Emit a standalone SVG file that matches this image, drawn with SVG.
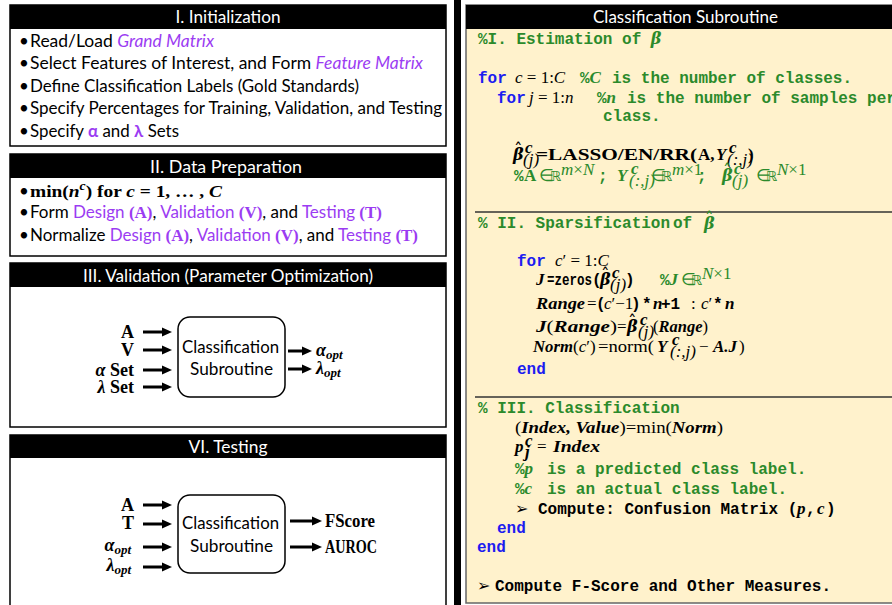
<svg xmlns="http://www.w3.org/2000/svg" width="892" height="605" viewBox="0 0 892 605">
  <style>
    .hdr { font-family: Lato, "Liberation Sans", sans-serif; font-size: 17px; fill: #fff; text-anchor: middle; }
    .txt { font-family: Lato, "Liberation Sans", sans-serif; font-size: 17px; fill: #000; }
    .pur { fill: #9b3cf2; }
    .ser { font-family: "Liberation Serif", serif; }
    .dv { font-family: "DejaVu Serif", serif; }
    .ds { font-family: "DejaVu Sans", sans-serif; font-weight: normal; font-style: normal; }
    .hat { font-family: "DejaVu Sans", sans-serif; font-size: 17px; }
    .bd { font-weight: bold; }
    .it { font-style: italic; }
    .code { font-family: "Liberation Mono", monospace; font-weight: bold; font-size: 16px; }
    .g { fill: #2b8a2b; }
    .b { fill: #1c1cf0; }
    .k { fill: #000; }
    .box { fill: #fff; stroke: #000; stroke-width: 1.5; }
    .head { fill: #000; }
    .sub { fill: #fff; stroke: #000; stroke-width: 1.5; }
    .arr { stroke: #000; stroke-width: 3; fill: none; marker-end: url(#ah); }
    .sep { stroke: #333; stroke-width: 1.5; }
    .mt { font-family: "Liberation Serif", serif; font-size: 17px; }
    .io { font-family: "Liberation Serif", serif; font-size: 18px; font-weight: bold; }
  </style>
  <defs>
    <marker id="ah" markerUnits="userSpaceOnUse" markerWidth="10" markerHeight="10" refX="1" refY="5" orient="auto" viewBox="0 0 10 10">
      <path d="M0,0.5 L10,5 L0,9.5 z" fill="#000"/>
    </marker>
  </defs>

  <rect width="892" height="605" fill="#fff"/>

  <!-- divider bar between the two columns -->
  <rect x="454" y="0" width="7" height="605" fill="#000"/>

  <!-- I. Initialization -->
  <g id="panel-init">
    <rect class="box" x="10" y="5" width="436" height="141"/>
    <rect class="head" x="10" y="5" width="436" height="24"/>
    <text class="hdr" x="228" y="23" textLength="105" lengthAdjust="spacingAndGlyphs">I. Initialization</text>
    <text class="txt" x="19" y="47">•</text>
    <text class="txt" x="30" y="47" textLength="184" lengthAdjust="spacingAndGlyphs">Read/Load <tspan class="pur it">Grand Matrix</tspan></text>
    <text class="txt" x="19" y="69">•</text>
    <text class="txt" x="30" y="69" textLength="393" lengthAdjust="spacingAndGlyphs">Select Features of Interest, and  Form <tspan class="pur it">Feature Matrix</tspan></text>
    <text class="txt" x="19" y="92">•</text>
    <text class="txt" x="30" y="92" textLength="329" lengthAdjust="spacingAndGlyphs">Define Classification Labels (Gold Standards)</text>
    <text class="txt" x="19" y="114">•</text>
    <text class="txt" x="30" y="114" textLength="412" lengthAdjust="spacingAndGlyphs">Specify Percentages for Training, Validation, and Testing</text>
    <text class="txt" x="19" y="137">•</text>
    <text class="txt" x="30" y="137" textLength="149" lengthAdjust="spacingAndGlyphs">Specify <tspan class="pur bd">α</tspan> and <tspan class="pur bd">λ</tspan> Sets</text>
  </g>

  <!-- II. Data Preparation -->
  <g id="panel-prep">
    <rect class="box" x="10" y="154" width="436" height="102"/>
    <rect class="head" x="10" y="154" width="436" height="24"/>
    <text class="hdr" x="226" y="173" textLength="152" lengthAdjust="spacingAndGlyphs">II. Data Preparation</text>
    <text class="txt" x="19" y="197">•</text>
    <text class="mt bd" x="30" y="197" font-size="18" textLength="192" lengthAdjust="spacingAndGlyphs">min(<tspan class="it">n</tspan><tspan class="it" font-size="12" dy="-7">c</tspan><tspan dy="7">) for </tspan><tspan class="it">c</tspan> = 1, … , <tspan class="it">C</tspan></text>
    <text class="txt" x="19" y="218">•</text>
    <text class="txt" x="30" y="218" textLength="352" lengthAdjust="spacingAndGlyphs">Form <tspan class="pur">Design </tspan><tspan class="pur ser bd">(A)</tspan>, <tspan class="pur">Validation </tspan><tspan class="pur ser bd">(V)</tspan>, and <tspan class="pur">Testing </tspan><tspan class="pur ser bd">(T)</tspan></text>
    <text class="txt" x="19" y="241">•</text>
    <text class="txt" x="30" y="241" textLength="388" lengthAdjust="spacingAndGlyphs">Normalize <tspan class="pur">Design </tspan><tspan class="pur ser bd">(A)</tspan>, <tspan class="pur">Validation </tspan><tspan class="pur ser bd">(V)</tspan>, and <tspan class="pur">Testing </tspan><tspan class="pur ser bd">(T)</tspan></text>
  </g>

  <!-- III. Validation -->
  <g id="panel-validation">
    <rect class="box" x="10" y="263" width="436" height="164"/>
    <rect class="head" x="10" y="263" width="436" height="24"/>
    <text class="hdr" x="228" y="282" textLength="290" lengthAdjust="spacingAndGlyphs">III. Validation (Parameter Optimization)</text>
    <text class="io" x="134" y="338" text-anchor="end">A</text>
    <text class="io" x="134" y="356" text-anchor="end">V</text>
    <text class="io" x="134" y="376" text-anchor="end"><tspan class="it">α</tspan> Set</text>
    <text class="io" x="134" y="393" text-anchor="end"><tspan class="it">λ</tspan> Set</text>
    <text class="io it" x="316" y="356" font-size="19">α<tspan font-size="13" dy="3">opt</tspan></text>
    <text class="io it" x="316" y="374" font-size="19">λ<tspan font-size="13" dy="3">opt</tspan></text>
  </g>
  <g id="node-validation-subroutine">
    <rect class="sub" x="178" y="317" width="107" height="80" rx="12"/>
    <text class="txt" x="182" y="353" textLength="97" lengthAdjust="spacingAndGlyphs" font-size="18">Classification</text>
    <text class="txt" x="190" y="375" textLength="83" lengthAdjust="spacingAndGlyphs" font-size="18">Subroutine</text>
  </g>

  <!-- VI. Testing -->
  <g id="panel-testing">
    <rect class="box" x="10" y="435" width="436" height="180"/>
    <rect class="head" x="10" y="435" width="436" height="23"/>
    <text class="hdr" x="228" y="453" textLength="79" lengthAdjust="spacingAndGlyphs">VI. Testing</text>
    <text class="io" x="134" y="511" text-anchor="end">A</text>
    <text class="io" x="134" y="529" text-anchor="end">T</text>
    <text class="io it" x="131" y="551" text-anchor="end" font-size="19">α<tspan font-size="13" dy="3">opt</tspan></text>
    <text class="io it" x="131" y="571" text-anchor="end" font-size="19">λ<tspan font-size="13" dy="3">opt</tspan></text>
    <text class="io" x="325" y="527" textLength="50" lengthAdjust="spacingAndGlyphs">FScore</text>
    <text class="io" x="325" y="553" textLength="52" lengthAdjust="spacingAndGlyphs">AUROC</text>
  </g>
  <g id="node-testing-subroutine">
    <rect class="sub" x="178" y="495" width="107" height="78" rx="12"/>
    <text class="txt" x="182" y="529" textLength="97" lengthAdjust="spacingAndGlyphs" font-size="18">Classification</text>
    <text class="txt" x="190" y="552" textLength="83" lengthAdjust="spacingAndGlyphs" font-size="18">Subroutine</text>
  </g>

  <!-- arrows into and out of the subroutine boxes -->
  <g id="connectors">
    <line class="arr" x1="143" y1="332" x2="163" y2="332"/>
    <line class="arr" x1="143" y1="350" x2="163" y2="350"/>
    <line class="arr" x1="143" y1="370" x2="163" y2="370"/>
    <line class="arr" x1="143" y1="387" x2="163" y2="387"/>
    <line class="arr" x1="288" y1="351" x2="303" y2="351"/>
    <line class="arr" x1="288" y1="369" x2="303" y2="369"/>
    <line class="arr" x1="143" y1="505" x2="163" y2="505"/>
    <line class="arr" x1="143" y1="524" x2="163" y2="524"/>
    <line class="arr" x1="143" y1="547" x2="163" y2="547"/>
    <line class="arr" x1="143" y1="567" x2="163" y2="567"/>
    <line class="arr" x1="290" y1="521" x2="313" y2="521"/>
    <line class="arr" x1="290" y1="547" x2="313" y2="547"/>
  </g>

  <!-- Classification Subroutine listing -->
  <g id="panel-subroutine">
    <rect x="466" y="5" width="440" height="598" fill="#fff2cc" stroke="#666" stroke-width="1.5"/>
    <rect class="head" x="466" y="5" width="430" height="24"/>
    <text class="hdr" x="685.5" y="23" textLength="185" lengthAdjust="spacingAndGlyphs">Classification Subroutine</text>

    <!-- I. estimation -->
    <text class="code g" x="478" y="44">%I. Estimation of <tspan class="dv bd it" font-size="16">β</tspan></text>

    <text class="code b" x="478" y="83">for</text>
    <text class="mt k" x="515" y="83"><tspan class="it">c</tspan> = 1:<tspan class="it">C</tspan></text>
    <text class="code g" x="580" y="83">%<tspan class="mt it">C</tspan></text>
    <text class="code g" x="612" y="83">is the number of classes.</text>

    <text class="code b" x="497" y="103">for</text>
    <text class="mt k" x="529" y="103"><tspan class="it">j</tspan> = 1:<tspan class="it">n</tspan></text>
    <text class="code g" x="597" y="103">%<tspan class="mt bd it">n</tspan></text>
    <text class="code g" x="627" y="103">is the number of samples per</text>
    <text class="code g" x="603" y="121">class.</text>

    <text class="dv bd it k" x="513" y="160" font-size="16">β</text>
    <text class="hat k" x="514" y="156">ˆ</text>
    <text class="mt bd it k" x="525" y="153" font-size="10">c</text>
    <text class="mt it k" x="523" y="165" font-size="10">(j)</text>
    <text class="mt bd k" x="536" y="160" textLength="161" lengthAdjust="spacingAndGlyphs">=LASSO/EN/RR(</text>
    <text class="mt bd k" x="698" y="160">A,</text>
    <text class="mt bd it k" x="716" y="160">Y</text>
    <text class="mt bd it k" x="729" y="153" font-size="10">c</text>
    <text class="mt it k" x="727" y="165" font-size="10">(:,j)</text>
    <text class="mt bd k" x="748" y="160">)</text>

    <text class="code g" x="514" y="181">%</text>
    <text class="mt bd g" x="524" y="181">A</text>
    <text class="mt g" x="539" y="181" font-size="14">∈</text>
    <text class="ds g" x="550" y="181" font-size="14">ℝ</text>
    <text class="mt it g" x="561" y="175" font-size="12">m<tspan font-style="normal">×</tspan>N</text>
    <text class="code g" x="598" y="181">;</text>
    <text class="mt bd it g" x="617" y="181">Y</text>
    <text class="mt bd it g" x="631" y="174" font-size="10">c</text>
    <text class="mt it g" x="629" y="186" font-size="10">(:,j)</text>
    <text class="mt g" x="651" y="181" font-size="14">∈</text>
    <text class="ds g" x="661" y="181" font-size="14">ℝ</text>
    <text class="mt it g" x="672" y="175" font-size="12">m<tspan font-style="normal">×1</tspan></text>
    <text class="code g" x="697" y="181">;</text>
    <text class="dv bd it g" x="722" y="181" font-size="16">β</text>
    <text class="hat g" x="723" y="177">ˆ</text>
    <text class="mt bd it g" x="734" y="174" font-size="10">c</text>
    <text class="mt it g" x="732" y="186" font-size="10">(j)</text>
    <text class="mt g" x="756" y="181" font-size="14">∈</text>
    <text class="ds g" x="766" y="181" font-size="14">ℝ</text>
    <text class="mt it g" x="777" y="175" font-size="12">N<tspan font-style="normal">×1</tspan></text>

    <line class="sep" x1="475" y1="212" x2="892" y2="212"/>

    <!-- II. sparsification -->
    <text class="code g" x="478" y="228">% II. Sparsification</text>
    <text class="code g" x="673" y="228">of</text>
    <text class="dv bd it g" x="704" y="229" font-size="16">β</text>
    <text class="hat g" x="705" y="225">ˆ</text>

    <text class="code b" x="517" y="266">for</text>
    <text class="mt k" x="555" y="266"><tspan class="it">c</tspan>′ = 1:<tspan class="it">C</tspan></text>

    <text class="mt bd it k" x="536" y="285">J</text>
    <text class="code k" x="547" y="285" textLength="45" lengthAdjust="spacingAndGlyphs">=zeros</text>
    <text class="code k" x="592" y="285">(</text>
    <text class="dv bd it k" x="600" y="285" font-size="16">β</text>
    <text class="hat k" x="601" y="281">ˆ</text>
    <text class="mt bd it k" x="612" y="278" font-size="10">c</text>
    <text class="mt it k" x="610" y="290" font-size="10">(j)</text>
    <text class="code k" x="625" y="285">)</text>
    <text class="code g" x="660" y="285">%<tspan class="mt bd it">J</tspan></text>
    <text class="mt g" x="681" y="285" font-size="14">∈</text>
    <text class="ds g" x="691" y="285" font-size="14">ℝ</text>
    <text class="mt it g" x="702" y="279" font-size="12">N<tspan font-style="normal">×1</tspan></text>

    <text class="mt bd it k" x="536" y="309" textLength="49" lengthAdjust="spacingAndGlyphs">Range</text>
    <text class="mt k" x="587" y="309">=</text>
    <text class="code k" x="596" y="309">(</text>
    <text class="mt k" x="604" y="309"><tspan class="it">c</tspan>′−1</text>
    <text class="code k" x="631" y="309">)</text>
    <text class="code k" x="642" y="309">*</text>
    <text class="mt bd it k" x="653" y="309">n</text>
    <text class="code k" x="661" y="309">+1</text>
    <text class="mt k" x="691" y="309">:</text>
    <text class="mt k" x="701" y="309"><tspan class="it">c</tspan>′</text>
    <text class="code k" x="713" y="309">*</text>
    <text class="mt bd it k" x="725" y="309">n</text>

    <text class="mt bd it k" x="536" y="332" textLength="81" lengthAdjust="spacingAndGlyphs">J<tspan font-style="normal" font-weight="normal">(</tspan>Range<tspan font-style="normal" font-weight="normal">)</tspan></text>
    <text class="mt k" x="617" y="332">=</text>
    <text class="dv bd it k" x="627" y="332" font-size="16">β</text>
    <text class="hat k" x="628" y="328">ˆ</text>
    <text class="mt bd it k" x="640" y="325" font-size="10">c</text>
    <text class="mt it k" x="638" y="337" font-size="10">(j)</text>
    <text class="mt bd it k" x="653" y="332" textLength="55" lengthAdjust="spacingAndGlyphs"><tspan font-style="normal" font-weight="normal">(</tspan>Range<tspan font-style="normal" font-weight="normal">)</tspan></text>

    <text class="mt bd it k" x="533" y="352" textLength="40" lengthAdjust="spacingAndGlyphs">Norm</text>
    <text class="mt k" x="573" y="352">(<tspan class="it">c</tspan>′)</text>
    <text class="mt k" x="598" y="352" textLength="56" lengthAdjust="spacingAndGlyphs">=norm(</text>
    <text class="mt bd it k" x="657" y="352">Y</text>
    <text class="mt bd it k" x="672" y="345" font-size="10">c</text>
    <text class="mt it k" x="670" y="357" font-size="10">(:,j)</text>
    <text class="mt k" x="699" y="352">−</text>
    <text class="mt bd it k" x="713" y="352">A.J</text>
    <text class="mt k" x="739" y="352">)</text>

    <text class="code b" x="517" y="374">end</text>

    <line class="sep" x1="475" y1="397" x2="892" y2="397"/>

    <!-- III. classification -->
    <text class="code g" x="478" y="413">% III. Classification</text>
    <text class="mt k" x="515" y="433" textLength="208" lengthAdjust="spacingAndGlyphs">(<tspan class="bd it">Index, Value</tspan>)=min(<tspan class="bd it">Norm</tspan>)</text>
    <text class="mt bd it k" x="515" y="452">p</text>
    <text class="mt bd it k" x="525" y="446" font-size="10">c</text>
    <text class="mt bd it k" x="525" y="457" font-size="10">j</text>
    <text class="mt k" x="537" y="452">=</text>
    <text class="mt bd it k" x="553" y="452" textLength="47" lengthAdjust="spacingAndGlyphs">Index</text>
    <text class="code g" x="515" y="474">%<tspan class="mt bd it">p</tspan></text>
    <text class="code g" x="547" y="474">is a predicted class label.</text>
    <text class="code g" x="515" y="494">%<tspan class="mt bd it">c</tspan></text>
    <text class="code g" x="547" y="494">is an actual class label.</text>
    <text class="ds k" x="515" y="514" font-size="16">➢</text>
    <text class="code k" x="538" y="514">Compute: Confusion Matrix (</text>
    <text class="mt bd it k" x="797" y="514">p</text>
    <text class="code k" x="806" y="514">,</text>
    <text class="mt bd it k" x="817" y="514">c</text>
    <text class="code k" x="826" y="514">)</text>
    <text class="code b" x="497" y="533">end</text>
    <text class="code b" x="477" y="552">end</text>

    <text class="ds k" x="477" y="591" font-size="16">➢</text>
    <text class="code k" x="495" y="591">Compute F-Score and Other Measures.</text>
  </g>
</svg>
